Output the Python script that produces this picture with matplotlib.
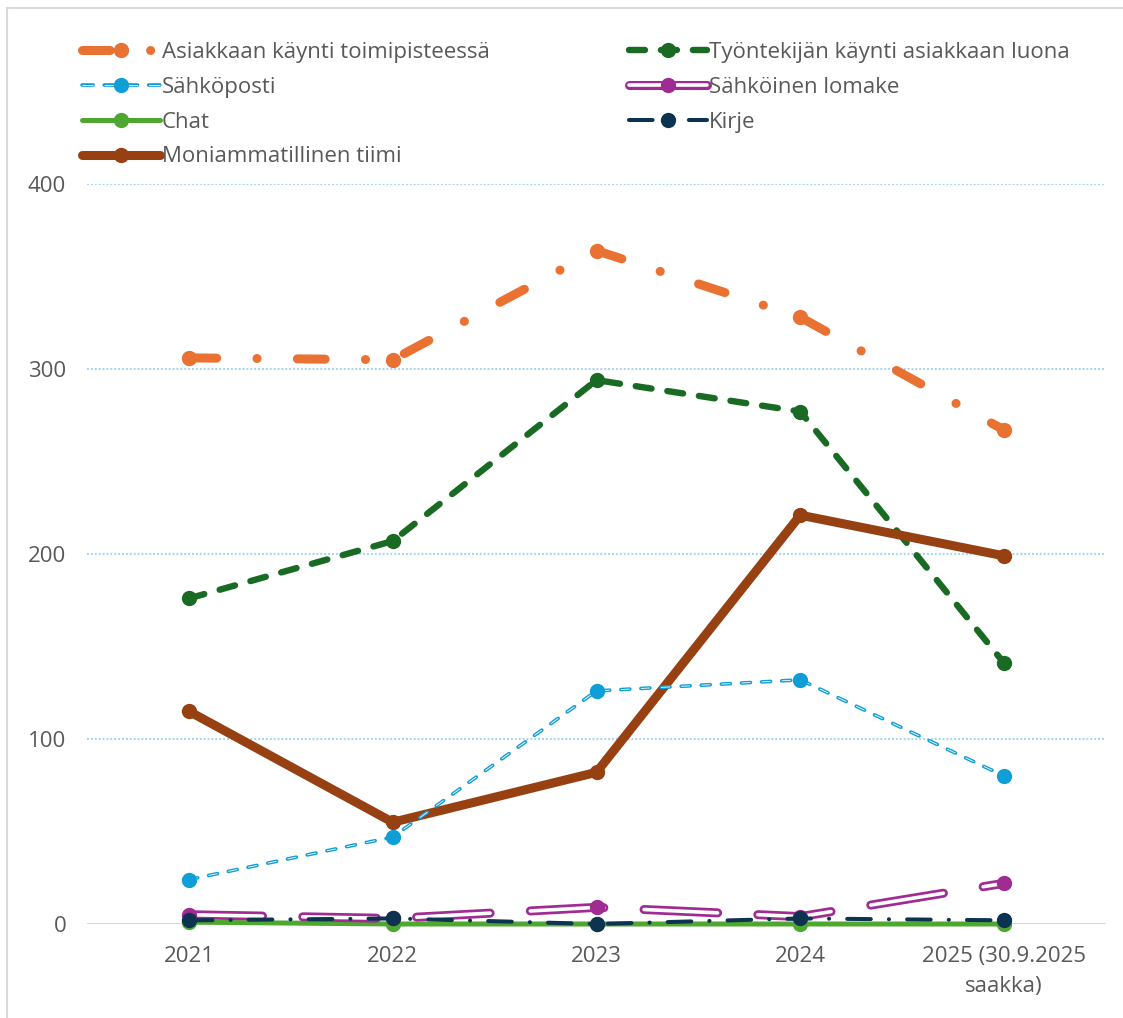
import matplotlib.pyplot as plt
from matplotlib.lines import Line2D
from matplotlib.legend_handler import HandlerTuple
from matplotlib.patches import Rectangle

plt.rcParams['font.family'] = ['Open Sans', 'DejaVu Sans']
plt.rcParams['lines.scale_dashes'] = False

years = ["2021", "2022", "2023", "2024", "2025 (30.9.2025\nsaakka)"]
asiakkaan = [306, 305, 364, 328, 267]
tyontekijan = [176, 207, 294, 277, 141]
sahkoposti = [24, 47, 126, 132, 80]
lomake = [5, 3, 9, 4, 22]
chat = [1, 0, 0, 0, 0]
kirje = [2, 3, 0, 3, 2]
moniamm = [115, 55, 82, 221, 199]

labels = ["Asiakkaan käynti toimipisteessä", "Työntekijän käynti asiakkaan luona",
          "Sähköposti", "Sähköinen lomake", "Chat", "Kirje", "Moniammatillinen tiimi"]

txt = "#595959"
c_purple = "#A02B93"
c_blue = "#0F9ED5"
fig = plt.figure(figsize=(11.23, 10.18), dpi=100)
fig.patches.append(Rectangle((7 / 1123, -0.05), 1.2, 1 - 8 / 1018 + 0.05, transform=fig.transFigure,
                             fill=False, edgecolor="#D9D9D9", lw=1.5))
ax = fig.add_axes([87 / 1123, 1 - 924 / 1018, (1106 - 87) / 1123, (924 - 184) / 1018])
x = list(range(len(years)))
ms = 10

# Chat
h_chat, = ax.plot(x, chat, color="#4EA72E", lw=3.6, marker="o", ms=ms, solid_capstyle="round",
                  clip_on=False, zorder=3)

# Sähköinen lomake (double line)
pd_dash = (0, (53, 29))
ax.plot(x, lomake, color=c_purple, lw=6.5, ls=pd_dash, dash_capstyle="round", clip_on=False, zorder=4)
ax.plot(x, lomake, color="white", lw=2.6, ls=pd_dash, dash_capstyle="round", clip_on=False, zorder=4)
ax.plot(x, lomake, color=c_purple, ls="none", marker="o", ms=ms, clip_on=False, zorder=4)

# Kirje
h_kirje, = ax.plot(x, kirje, color="#0E3350", lw=2.9, ls=(0, (17, 13, 0.1, 13)), dash_capstyle="round",
                   marker="o", ms=ms, clip_on=False, zorder=5)

# Asiakkaan
h_as, = ax.plot(x, asiakkaan, color="#E97132", lw=6.5, ls=(0, (20, 29, 0.1, 29)), dash_capstyle="round",
                marker="o", ms=ms, zorder=6)

# Työntekijän
h_ty, = ax.plot(x, tyontekijan, color="#196B24", lw=4.6, ls=(0, (11.5, 11.5)), dash_capstyle="round",
                marker="o", ms=ms, zorder=6)

# Moniammatillinen
h_mo, = ax.plot(x, moniamm, color="#974012", lw=6.5, solid_capstyle="round", solid_joinstyle="round",
                marker="o", ms=ms, zorder=7)

# Sähköposti (double line)
sp_dash = (0, (6.5, 8))
ax.plot(x, sahkoposti, color=c_blue, lw=2.6, ls=sp_dash, dash_capstyle="round", zorder=8)
ax.plot(x, sahkoposti, color="white", lw=0.6, ls=sp_dash, zorder=8)
ax.plot(x, sahkoposti, color=c_blue, ls="none", marker="o", ms=ms, zorder=8)

ax.set_xlim(-0.5, len(years) - 0.5)
ax.set_ylim(0, 400)
ax.set_yticks([0, 100, 200, 300, 400])
ax.set_xticks(x)
ax.set_xticklabels(years, linespacing=1.55)
ax.tick_params(axis="both", length=0, labelsize=16, colors=txt)
ax.tick_params(axis="y", pad=15)
ax.tick_params(axis="x", pad=16)
for s in ax.spines.values():
    s.set_visible(False)
for v in [100, 200, 300, 400]:
    ax.axhline(v, color="#A9D5F0", lw=1.5, ls=(0, (1.4, 1.4)), zorder=1)
ax.axhline(0, color="#D9D9D9", lw=1.5, zorder=1)

# legend proxies for the double lines
lp_out = Line2D([], [], color=c_purple, lw=6.5, solid_capstyle="round")
lp_in = Line2D([], [], color="white", lw=2.6, solid_capstyle="round")
lp_mk = Line2D([], [], color=c_purple, ls="none", marker="o", ms=ms)
sp_out = Line2D([], [], color=c_blue, lw=2.6, ls=(0, (8, 8)), dash_capstyle="round")
sp_in = Line2D([], [], color="white", lw=0.6, ls=(0, (8, 8)))
sp_mk = Line2D([], [], color=c_blue, ls="none", marker="o", ms=ms)

handles = [h_as, (sp_out, sp_in, sp_mk), h_chat, h_mo, h_ty, (lp_out, lp_in, lp_mk), h_kirje]
order = [labels[0], labels[2], labels[4], labels[6], labels[1], labels[3], labels[5]]
leg = fig.legend(handles, order, loc="upper left", bbox_to_anchor=(82 / 1123, 1 - 42 / 1018),
                 ncol=2, frameon=False, fontsize=16, handlelength=3.5, handletextpad=0.08,
                 labelspacing=0.62, columnspacing=6.3, borderpad=0, borderaxespad=0,
                 handler_map={tuple: HandlerTuple(ndivide=1)})
for t in leg.get_texts():
    t.set_color(txt)

plt.savefig("out.png", dpi=100)
